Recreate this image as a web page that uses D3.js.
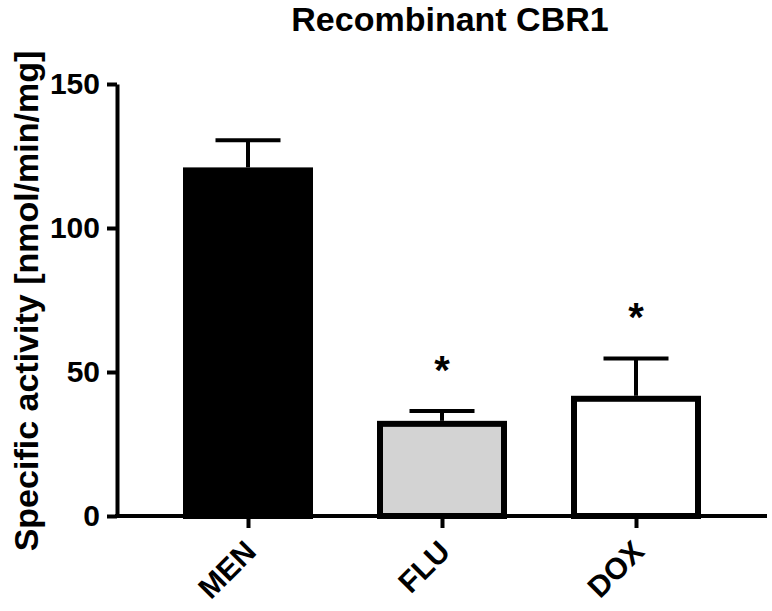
<!DOCTYPE html>
<html>
<head>
<meta charset="utf-8">
<script src="https://cdn.jsdelivr.net/npm/d3@7/dist/d3.min.js"></script>
<style>
  html, body { margin: 0; padding: 0; background: #fff; }
  svg { display: block; }
  text { font-family: "Liberation Sans", Arial, sans-serif; font-weight: bold; fill: #000; }
</style>
</head>
<body>
<svg id="chart" width="772" height="611"></svg>
<script>
// ---- data ----
const categories = ["MEN", "FLU", "DOX"];
const means = [120, 32, 40.7];
const errors = [10.5, 4.5, 14];
const significant = [false, true, true];
const fills = ["#000000", "#d3d3d3", "#ffffff"];
const yTicks = [0, 50, 100, 150];
const title = "Recombinant CBR1";
const yLabel = "Specific activity [nmol/min/mg]";

// ---- layout ----
const axisX0 = 117, axisX1 = 767;
const svg = d3.select("#chart");

const y = d3.scaleLinear().domain([0, 150]).range([516, 84]);
const x = d3.scalePoint().domain(categories).range([248, 636]);
const barW = 124, capW = 65;

// bars
svg.append("g").selectAll("rect").data(categories).join("rect")
  .attr("x", d => x(d) - barW / 2)
  .attr("y", (d, i) => y(means[i]))
  .attr("width", barW)
  .attr("height", (d, i) => y(0) - y(means[i]))
  .attr("fill", (d, i) => fills[i])
  .attr("stroke", "#000")
  .attr("stroke-width", 6);

// error bars
const eg = svg.append("g").attr("stroke", "#000").attr("stroke-width", 4);
eg.selectAll("line.v").data(categories).join("line").attr("class", "v")
  .attr("x1", d => x(d)).attr("x2", d => x(d))
  .attr("y1", (d, i) => y(means[i]) - 3)
  .attr("y2", (d, i) => y(means[i] + errors[i]));
eg.selectAll("line.c").data(categories).join("line").attr("class", "c")
  .attr("x1", d => x(d) - capW / 2).attr("x2", d => x(d) + capW / 2)
  .attr("y1", (d, i) => y(means[i] + errors[i]))
  .attr("y2", (d, i) => y(means[i] + errors[i]));

// significance stars
svg.append("g").selectAll("text").data(categories.filter((d, i) => significant[i])).join("text")
  .attr("x", d => x(d))
  .attr("y", d => { const i = categories.indexOf(d); return y(means[i] + errors[i]) - 49 + 22; })
  .attr("text-anchor", "middle")
  .style("font-size", "40px")
  .text("*");

// y axis
const yAxis = svg.append("g").attr("transform", `translate(${axisX0},0)`)
  .call(d3.axisLeft(y).tickValues(yTicks).tickSize(10).tickSizeOuter(0).tickPadding(7));
yAxis.select(".domain").attr("stroke", "#000").attr("stroke-width", 4);
yAxis.selectAll(".tick line").attr("stroke", "#000").attr("stroke-width", 4);
yAxis.selectAll(".tick text").style("font-size", "30px").style("font-family", "Liberation Sans, Arial, sans-serif").style("font-weight", "bold").attr("fill", "#000");

// x axis
const xAxis = svg.append("g").attr("transform", `translate(0,${y(0)})`)
  .call(d3.axisBottom(x).tickSize(12).tickSizeOuter(0));
xAxis.select(".domain").remove();
xAxis.append("line").attr("x1", axisX0 - 2).attr("x2", axisX1).attr("y1", 0).attr("y2", 0)
  .attr("stroke", "#000").attr("stroke-width", 4);
xAxis.selectAll(".tick line").attr("stroke", "#000").attr("stroke-width", 4);
xAxis.selectAll(".tick text")
  .style("font-size", "30px").style("font-family", "Liberation Sans, Arial, sans-serif").style("font-weight", "bold")
  .attr("fill", "#000")
  .attr("y", 0).attr("dy", null)
  .attr("text-anchor", "end")
  .attr("dominant-baseline", "central")
  .attr("transform", "translate(2,30) rotate(-45)");

// title
svg.append("text").attr("x", 450).attr("y", 31).attr("text-anchor", "middle")
  .style("font-size", "34px").text(title);

// y label
svg.append("text").attr("transform", "translate(38,301) rotate(-90)")
  .attr("text-anchor", "middle").style("font-size", "34px").text(yLabel);
</script>
</body>
</html>
